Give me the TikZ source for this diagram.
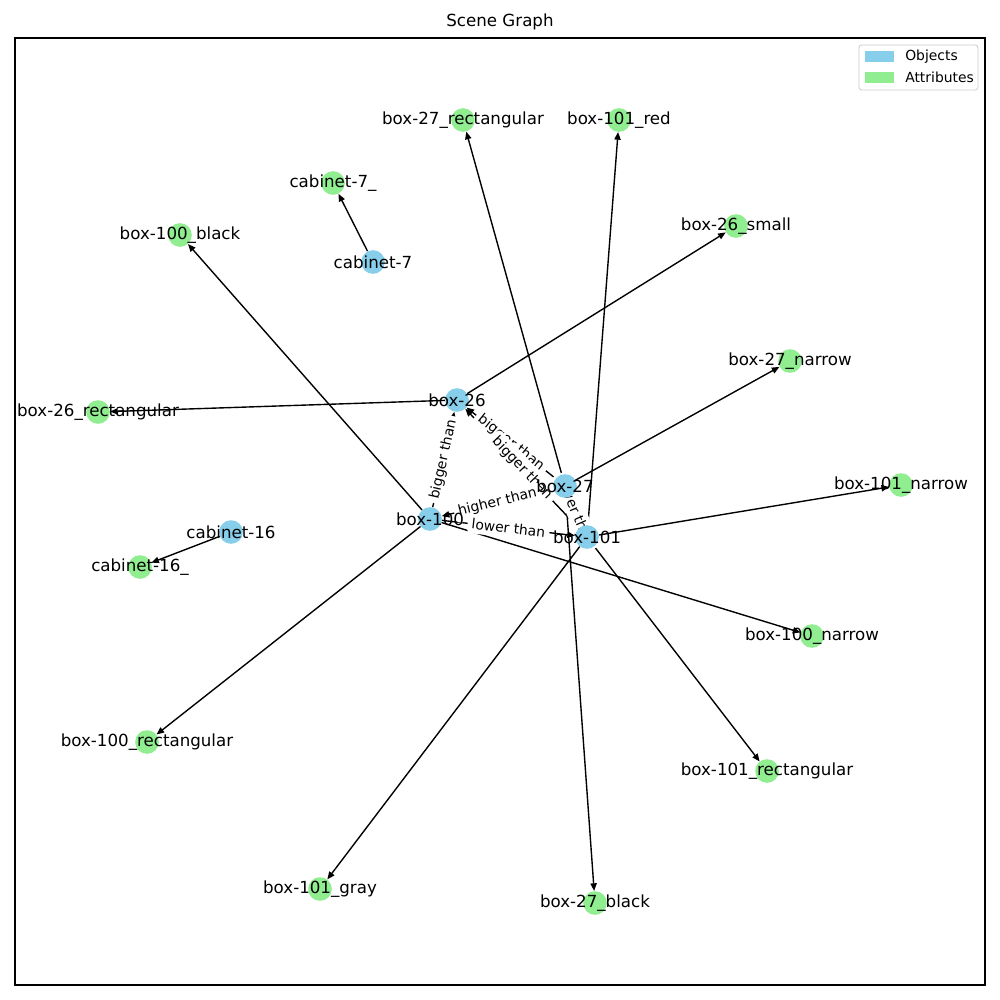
\documentclass[tikz,border=0pt]{standalone}
\usepackage{fontspec}
\setmainfont{DejaVu Sans}
\usetikzlibrary{arrows.meta}
\definecolor{skyblue}{HTML}{87CEEB}
\definecolor{lgreen}{HTML}{90EE90}
\pgfdeclarelayer{bg}
\pgfdeclarelayer{edges}
\pgfdeclarelayer{elabels}
\pgfdeclarelayer{texts}
\pgfsetlayers{bg,edges,elabels,main,texts}
\begin{document}
\begin{tikzpicture}[x=0.72pt,y=-0.72pt,
  obj/.style={circle,fill=skyblue,minimum size=17pt,inner sep=0pt},
  attr/.style={circle,fill=lgreen,minimum size=17pt,inner sep=0pt},
  lbl/.style={font=\fontsize{12}{14}\selectfont,inner sep=0pt},
  elbl/.style={font=\fontsize{10}{12}\selectfont,fill=white,rounded corners=3pt,inner sep=3pt,sloped,midway},
  edge/.style={-{Triangle[length=5.5pt,width=4.5pt]},line width=1pt}]
\useasboundingbox (0,0) rectangle (1000,1000);
\begin{pgfonlayer}{bg}
\fill[white] (0,0) rectangle (1000,1000);
\end{pgfonlayer}
% frame and title
\draw[line width=0.8pt] (15,38) rectangle (985,985);
\node[font=\fontsize{12}{14}\selectfont] (title) at (500,22) {Scene Graph};
% legend
\draw[draw=black!20,fill=white,rounded corners=2pt,line width=0.6pt] (859,45) rectangle (978,90);
\fill[skyblue] (865,51) rectangle (894,62);
\fill[lgreen] (865,72) rectangle (894,83);
\node[font=\fontsize{10}{12}\selectfont,anchor=west,inner sep=0pt] (legobj) at (905,56.5) {Objects};
\node[font=\fontsize{10}{12}\selectfont,anchor=west,inner sep=0pt] (legattr) at (905,77.5) {Attributes};
% nodes
\node[obj] (b26) at (457,400) {};
\node[obj] (b27) at (565,486) {};
\node[obj] (b100) at (430,519) {};
\node[obj] (b101) at (587,537) {};
\node[obj] (c7) at (373,262) {};
\node[obj] (c16) at (231,532) {};
\node[attr] (c7a) at (333,183) {};
\node[attr] (c16a) at (140,567) {};
\node[attr] (b100k) at (180,235) {};
\node[attr] (b27r) at (463,120) {};
\node[attr] (b101re) at (619,120) {};
\node[attr] (b26s) at (736,226) {};
\node[attr] (b27n) at (790,361) {};
\node[attr] (b26r) at (98,412) {};
\node[attr] (b101n) at (901,485) {};
\node[attr] (b100n) at (812,636) {};
\node[attr] (b100r) at (147,742) {};
\node[attr] (b101r) at (767,771) {};
\node[attr] (b101g) at (320,889) {};
\node[attr] (b27k) at (595,903) {};
% edges
\begin{pgfonlayer}{edges}
\draw[edge] (c7) -- (c7a);
\draw[edge] (c16) -- (c16a);
\draw[edge] (b100) -- (b100k);
\draw[edge] (b27) -- (b27r);
\draw[edge] (b101) -- (b101re);
\draw[edge] (b26) -- (b26s);
\draw[edge] (b27) -- (b27n);
\draw[edge] (b26) -- (b26r);
\draw[edge] (b101) -- (b101n);
\draw[edge] (b100) -- (b100n);
\draw[edge] (b100) -- (b100r);
\draw[edge] (b101) -- (b101r);
\draw[edge] (b101) -- (b101g);
\draw[edge] (b27) -- (b27k);
\draw[edge] (b27) -- (b26);
\draw[edge] (b27) -- (b101);
\draw[edge] (b101) -- (b26);
\draw[edge] (b100) -- (b26);
\draw[edge] (b27) -- (b100);
\draw[edge] (b100) -- (b101);
\end{pgfonlayer}
% edge labels
\begin{pgfonlayer}{elabels}
\path (b27) -- (b26) node[elbl] (l1) {bigger than};
\path (b27) -- (b101) node[elbl] (l2) {lower than};
\path (b101) -- (b26) node[elbl] (l3) {bigger than};
\path (b100) -- (b26) node[elbl] (l4) {bigger than};
\path (b27) -- (b100) node[elbl] (l5) {higher than};
\path (b100) -- (b101) node[elbl] (l6) {lower than};
\end{pgfonlayer}
% node texts
\begin{pgfonlayer}{texts}
\node[lbl] (t-b26) at (b26) {box-26};
\node[lbl] (t-b27) at (b27) {box-27};
\node[lbl] (t-b100) at (b100) {box-100};
\node[lbl] (t-b101) at (b101) {box-101};
\node[lbl] (t-c7) at (c7) {cabinet-7};
\node[lbl] (t-c16) at (c16) {cabinet-16};
\node[lbl] (t-c7a) at (c7a) {cabinet-7\_};
\node[lbl] (t-c16a) at (c16a) {cabinet-16\_};
\node[lbl] (t-b100k) at (b100k) {box-100\_black};
\node[lbl] (t-b27r) at (b27r) {box-27\_rectangular};
\node[lbl] (t-b101re) at (b101re) {box-101\_red};
\node[lbl] (t-b26s) at (b26s) {box-26\_small};
\node[lbl] (t-b27n) at (b27n) {box-27\_narrow};
\node[lbl] (t-b26r) at (b26r) {box-26\_rectangular};
\node[lbl] (t-b101n) at (b101n) {box-101\_narrow};
\node[lbl] (t-b100n) at (b100n) {box-100\_narrow};
\node[lbl] (t-b100r) at (b100r) {box-100\_rectangular};
\node[lbl] (t-b101r) at (b101r) {box-101\_rectangular};
\node[lbl] (t-b101g) at (b101g) {box-101\_gray};
\node[lbl] (t-b27k) at (b27k) {box-27\_black};
\end{pgfonlayer}
\end{tikzpicture}
\end{document}
